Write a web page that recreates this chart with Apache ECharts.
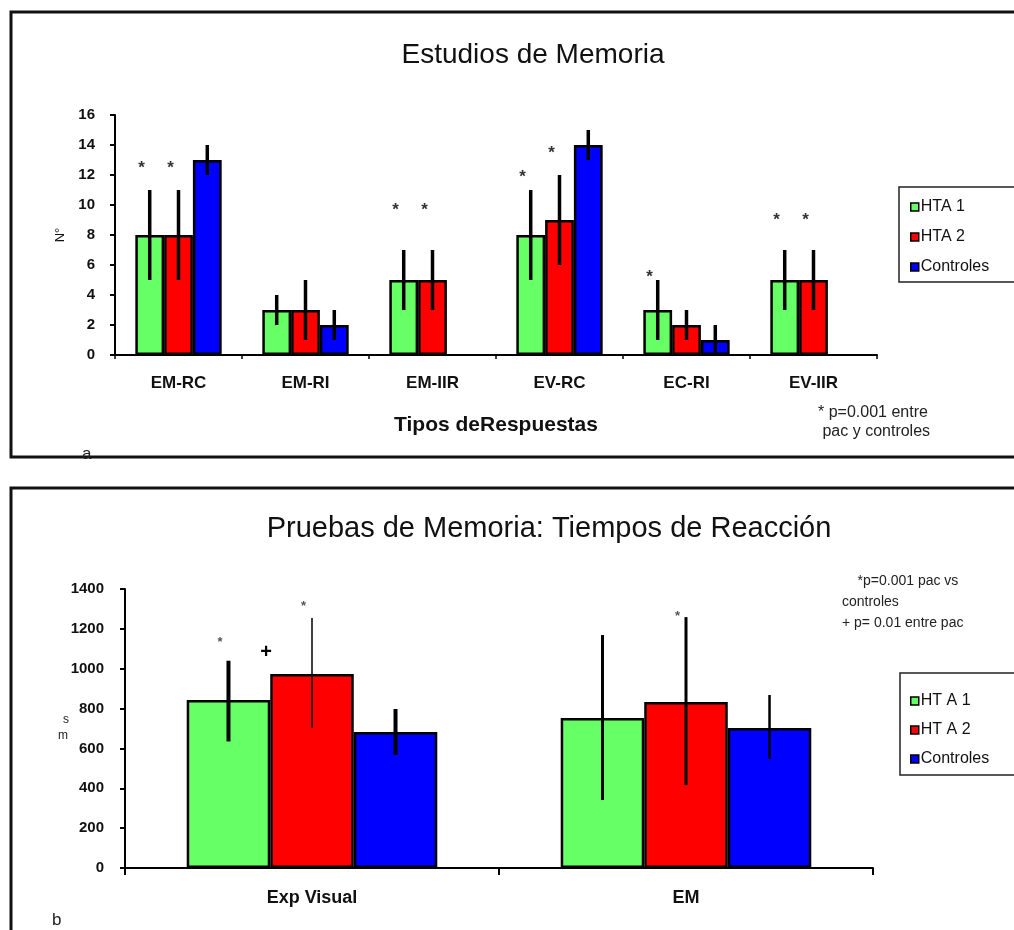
<!DOCTYPE html>
<html><head><meta charset="utf-8">
<script src="https://cdn.jsdelivr.net/npm/echarts@6/dist/echarts.min.js"></script>
<style>html,body{margin:0;padding:0;background:#fff}#c{width:1014px;height:930px}</style>
</head><body><div id="c"></div>
<script>
// ---------- Panel a: Estudios de Memoria ----------
const catsA = ['EM-RC', 'EM-RI', 'EM-IIR', 'EV-RC', 'EC-RI', 'EV-IIR'];
const namesA = ['HTA 1', 'HTA 2', 'Controles'];
const hta1A = [8, 3, 5, 8, 3, 5];
const hta2A = [8, 3, 5, 9, 2, 5];
const ctrlA = [13, 2, null, 14, 1, null];
// [category, group, low, high]
const errA = [
  [0,0,5,11],[0,1,5,11],[0,2,12,14],
  [1,0,2,4],[1,1,1,5],[1,2,1,3],
  [2,0,3,7],[2,1,3,7],
  [3,0,5,11],[3,1,6,12],[3,2,13,15],
  [4,0,1,5],[4,1,1,3],[4,2,0,2],
  [5,0,3,7],[5,1,3,7]
];
// [category, group, value, symbol]
const marksA = [
  [0,0,12.8,'*'],[0,1,12.8,'*'],[2,0,10,'*'],[2,1,10,'*'],
  [3,0,12.2,'*'],[3,1,13.8,'*'],[4,0,5.5,'*'],[5,0,9.3,'*'],[5,1,9.3,'*']
];
const yMaxA = 16, yStepA = 2;

// ---------- Panel b: Tiempos de Reacción ----------
const catsB = ['Exp Visual', 'EM'];
const namesB = ['HT A 1', 'HT A 2', 'Controles'];
const hta1B = [843, 753];
const hta2B = [973, 833];
const ctrlB = [682, 702];
const errB = [[0,0,635,1040],[0,1,702,1254],[0,2,567,798],[1,0,341,1169],[1,1,416,1259],[1,2,547,868]];
const marksB = [[0,0,1154,'*'],[0,1,1079,'+'],[0,1,1330,'*'],[1,1,1280,'*']];
const yMaxB = 1400, yStepB = 200;

const FONT = "'Liberation Sans', Arial, sans-serif";
const colors = ['#66ff66', '#ff0000', '#0000ff'];
const gapA = 0.32, gapB = 0.33;
const errWidthB = [[4, 1.5, 4], [3, 3, 2.5]];

function slotX(api, cat, grp, gap) {
  const c = api.coord([cat, 0]);
  const band = api.size([1, 0])[0];
  const bw = band * (1 - gap) / 3;
  return { x: c[0] + (grp - 1) * bw, bw: bw };
}

function errSeries(data, gi, gap, widthFn) {
  return {
    type: 'custom', coordinateSystem: 'cartesian2d', xAxisIndex: gi, yAxisIndex: gi,
    data: data, encode: { x: 0, y: [2, 3] }, z: 10, silent: true,
    renderItem: function (params, api) {
      const cat = api.value(0), grp = api.value(1);
      const s = slotX(api, cat, grp, gap);
      const p1 = api.coord([cat, api.value(2)]);
      const p2 = api.coord([cat, api.value(3)]);
      return { type: 'line', shape: { x1: s.x, y1: p1[1], x2: s.x, y2: p2[1] },
        style: { stroke: '#000', lineWidth: widthFn(cat, grp) } };
    }
  };
}

function markSeries(data, gi, gap, starOff, plusOff, starSize, starColor) {
  return {
    type: 'custom', coordinateSystem: 'cartesian2d', xAxisIndex: gi, yAxisIndex: gi,
    data: data, encode: { x: 0, y: 2 }, z: 11, silent: true,
    renderItem: function (params, api) {
      const cat = api.value(0), grp = api.value(1);
      const sym = data[params.dataIndex][3];
      const s = slotX(api, cat, grp, gap);
      const p = api.coord([cat, api.value(2)]);
      const isPlus = sym === '+';
      const fs = isPlus ? 20 : starSize;
      return { type: 'text', x: s.x + (isPlus ? plusOff : starOff) * s.bw,
        y: p[1] + (isPlus ? 0 : fs * 0.3),
        style: { text: sym, fill: isPlus ? '#000' : starColor, fontSize: fs,
          fontFamily: FONT, fontWeight: 'bold', align: 'center', verticalAlign: 'middle' } };
    }
  };
}

function barSeries(name, data, gi, color, gap) {
  return { type: 'bar', name: name, data: data, xAxisIndex: gi, yAxisIndex: gi,
    barGap: '0%', barCategoryGap: (gap * 100) + '%',
    itemStyle: { color: color, borderColor: '#000', borderWidth: 2.5 } };
}

const chart = echarts.init(document.getElementById('c'), null, { renderer: 'canvas' });
const axisLineStyle = { show: true, lineStyle: { color: '#000', width: 2 } };

const option = {
  backgroundColor: '#fff',
  animation: false,
  textStyle: { fontFamily: FONT },
  title: [
    { text: 'Estudios de Memoria', left: 528, top: 36, textAlign: 'center',
      textStyle: { fontSize: 28, fontWeight: 'normal', color: '#111', fontFamily: FONT } },
    { text: 'Pruebas de Memoria: Tiempos de Reacción', left: 544, top: 509, textAlign: 'center',
      textStyle: { fontSize: 29, fontWeight: 'normal', color: '#111', fontFamily: FONT } }
  ],
  legend: [
    { data: namesA, orient: 'vertical', left: 905, top: 194, itemWidth: 8, itemHeight: 8, itemGap: 14,
      icon: 'rect', itemStyle: { borderColor: '#000', borderWidth: 1.5 },
      textStyle: { fontSize: 16, color: '#111', fontFamily: FONT, padding: [0, 0, 0, -3] } },
    { data: namesB, orient: 'vertical', left: 905, top: 688, itemWidth: 8, itemHeight: 8, itemGap: 13,
      icon: 'rect', itemStyle: { borderColor: '#000', borderWidth: 1.5 },
      textStyle: { fontSize: 16, color: '#111', fontFamily: FONT, padding: [0, 0, 0, -3] } }
  ],
  grid: [
    { left: 115, right: 137, top: 115, bottom: 575 },
    { left: 125, right: 141, top: 589, bottom: 62 }
  ],
  xAxis: [
    { type: 'category', gridIndex: 0, data: catsA, axisLine: axisLineStyle,
      axisTick: { show: true, length: 4, lineStyle: { color: '#000', width: 1.5 } },
      axisLabel: { margin: 20, fontSize: 17, fontWeight: 'bold', color: '#111', fontFamily: FONT },
      name: 'Tipos deRespuestas', nameLocation: 'middle', nameGap: 60,
      nameTextStyle: { fontSize: 21, fontWeight: 'bold', color: '#111', fontFamily: FONT } },
    { type: 'category', gridIndex: 1, data: catsB, axisLine: axisLineStyle,
      axisTick: { show: true, length: 7, lineStyle: { color: '#000', width: 2 } },
      axisLabel: { margin: 21, fontSize: 18, fontWeight: 'bold', color: '#111', fontFamily: FONT } }
  ],
  yAxis: [
    { type: 'value', gridIndex: 0, min: 0, max: yMaxA, interval: yStepA, splitLine: { show: false },
      axisLine: axisLineStyle, axisTick: { show: true, length: 5, lineStyle: { color: '#000', width: 2 } },
      axisLabel: { margin: 20, fontSize: 15, fontWeight: 'bold', color: '#111', fontFamily: FONT },
      name: 'N°', nameLocation: 'middle', nameGap: 42, nameRotate: 90,
      nameTextStyle: { fontSize: 13, color: '#111', fontFamily: FONT } },
    { type: 'value', gridIndex: 1, min: 0, max: yMaxB, interval: yStepB, splitLine: { show: false },
      axisLine: axisLineStyle, axisTick: { show: true, length: 5, lineStyle: { color: '#000', width: 2 } },
      axisLabel: { margin: 21, fontSize: 15, fontWeight: 'bold', color: '#111', fontFamily: FONT,
        formatter: function (v) { return String(v); } } }
  ],
  series: [
    barSeries(namesA[0], hta1A, 0, colors[0], gapA),
    barSeries(namesA[1], hta2A, 0, colors[1], gapA),
    barSeries(namesA[2], ctrlA, 0, colors[2], gapA),
    barSeries(namesB[0], hta1B, 1, colors[0], gapB),
    barSeries(namesB[1], hta2B, 1, colors[1], gapB),
    barSeries(namesB[2], ctrlB, 1, colors[2], gapB),
    errSeries(errA, 0, gapA, function () { return 3.5; }),
    errSeries(errB, 1, gapB, function (c, g) { return errWidthB[c][g]; }),
    markSeries(marksA, 0, gapA, -0.28, 0, 17, '#333'),
    markSeries(marksB, 1, gapB, -0.1, -0.55, 13, '#555')
  ],
  graphic: [
    { type: 'rect', shape: { x: 11, y: 12, width: 1030, height: 445 }, style: { fill: 'none', stroke: '#111', lineWidth: 3 }, z: 0 },
    { type: 'rect', shape: { x: 11, y: 488, width: 1030, height: 500 }, style: { fill: 'none', stroke: '#111', lineWidth: 3 }, z: 0 },
    { type: 'rect', shape: { x: 899, y: 187, width: 130, height: 95 }, style: { fill: 'none', stroke: '#222', lineWidth: 1.5 }, z: 0 },
    { type: 'rect', shape: { x: 900, y: 673, width: 130, height: 102 }, style: { fill: 'none', stroke: '#222', lineWidth: 1.5 }, z: 0 },
    { type: 'text', left: 82, top: 446, z: 5, style: { text: 'a', fontSize: 17, fill: '#222', fontFamily: FONT } },
    { type: 'text', left: 52, top: 912, z: 5, style: { text: 'b', fontSize: 17, fill: '#222', fontFamily: FONT } },
    { type: 'text', left: 818, top: 403, z: 5, style: { text: '* p=0.001 entre\n pac y controles', fontSize: 16, lineHeight: 19, fill: '#222', fontFamily: FONT } },
    { type: 'text', left: 842, top: 571, z: 5, style: { text: '    *p=0.001 pac vs\ncontroles\n+ p= 0.01 entre pac', fontSize: 14, lineHeight: 21, fill: '#222', fontFamily: FONT } },
    { type: 'text', left: 63, top: 714, z: 5, style: { text: 's', fontSize: 12, fill: '#222', fontFamily: FONT } },
    { type: 'text', left: 58, top: 730, z: 5, style: { text: 'm', fontSize: 12, fill: '#222', fontFamily: FONT } }
  ]
};
chart.setOption(option);
</script>
</body></html>
